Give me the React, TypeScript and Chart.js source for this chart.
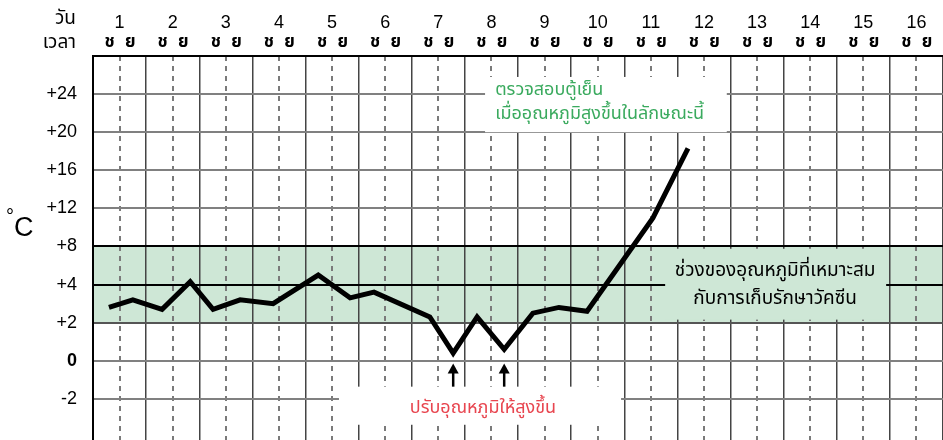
import React, { useEffect, useRef } from 'react';
import { Chart, registerables } from 'chart.js';

Chart.register(...registerables);

// ---------- data ----------
const DAYS = ['1', '2', '3', '4', '5', '6', '7', '8', '9', '10', '11', '12', '13', '14', '15', '16'];
const SHIFTS = ['ช', 'ย'];
const SHIFT_OFFSETS = [0.31, 0.7];
const TEMP_TICKS = [-2, 0, 2, 4, 8, 12, 16, 20, 24, 28];
const TEMP_LABELS = ['-2', '0', '+2', '+4', '+8', '+12', '+16', '+20', '+24', ''];
// reading times, in days from the start of day 1
const READ_TIMES = [0.3, 0.75, 1.3, 1.83, 2.26, 2.77, 3.39, 4.24, 4.84, 5.29, 6.34, 6.78, 7.23, 7.74, 8.28, 8.77, 9.3, 10.54, 11.2];
// fridge temperature (°C)
const READ_TEMPS = [2.8, 3.2, 2.7, 4.3, 2.7, 3.2, 3.0, 5.0, 3.3, 3.6, 2.3, 0.4, 2.3, 0.6, 2.5, 2.8, 2.6, 11.0, 18.3];
const SAFE_RANGE = [2, 8];
const ADJUST_TIMES = [6.78, 7.74];

const TEXT_CHECK = ['ตรวจสอบตู้เย็น', 'เมื่ออุณหภูมิสูงขึ้นในลักษณะนี้'];
const TEXT_SAFE = ['ช่วงของอุณหภูมิที่เหมาะสม', 'กับการเก็บรักษาวัคซีน'];
const TEXT_ADJUST = 'ปรับอุณหภูมิให้สูงขึ้น';

// ---------- styles ----------
const NUM_FONT = '"Liberation Sans", Arial, sans-serif';
const THAI_FONT = 'Tahoma, "Noto Sans Thai", "DejaVu Sans", "Noto Sans", sans-serif';
const BAND_COLOR = '#cee7d6';
const GREEN_TEXT = '#3aaa5e';
const RED_TEXT = '#e8454f';

// map a temperature onto the evenly spaced rows of the printed axis
function toRow(t: number): number {
  const n = TEMP_TICKS.length;
  let i = 0;
  while (i < n - 2 && t > TEMP_TICKS[i + 1]) i++;
  const a = TEMP_TICKS[i];
  const b = TEMP_TICKS[i + 1];
  return i + (t - a) / (b - a);
}

const overlay = {
  id: 'overlay',
  beforeDraw(chart: any) {
    const { ctx, chartArea: a, scales } = chart;
    const y = scales.y;
    const top = y.getPixelForValue(toRow(SAFE_RANGE[1]));
    const bot = y.getPixelForValue(toRow(SAFE_RANGE[0]));
    ctx.save();
    ctx.fillStyle = BAND_COLOR;
    ctx.fillRect(a.left, top, a.right - a.left, bot - top);
    ctx.restore();
  },
  afterDraw(chart: any) {
    const { ctx, chartArea: a, scales } = chart;
    const x = scales.x;
    const y = scales.y;
    const px = (v: number) => x.getPixelForValue(v);
    const py = (v: number) => y.getPixelForValue(v);
    ctx.save();

    // check-the-fridge box
    ctx.fillStyle = '#ffffff';
    ctx.fillRect(px(7.38), py(8.45), px(11.93) - px(7.38), py(7.0) - py(8.45));
    ctx.font = `18px ${THAI_FONT}`;
    ctx.fillStyle = GREEN_TEXT;
    ctx.textAlign = 'left';
    ctx.textBaseline = 'middle';
    ctx.fillText(TEXT_CHECK[0], px(7.57), py(8.07));
    ctx.fillText(TEXT_CHECK[1], px(7.57), py(7.45));

    // safe range label
    ctx.fillStyle = BAND_COLOR;
    ctx.fillRect(px(10.77), py(3.94), px(14.93) - px(10.77), py(2.08) - py(3.94));
    ctx.fillStyle = '#000';
    ctx.textAlign = 'center';
    ctx.font = `19px ${THAI_FONT}`;
    ctx.fillText(TEXT_SAFE[0], px(12.84), py(3.32));
    ctx.fillText(TEXT_SAFE[1], px(12.84), py(2.6));

    // adjust box
    ctx.fillStyle = '#ffffff';
    ctx.fillRect(px(4.63), py(0.32), px(9.94) - px(4.63), py(-0.68) - py(0.32));
    ctx.fillStyle = RED_TEXT;
    ctx.font = `18px ${THAI_FONT}`;
    ctx.fillText(TEXT_ADJUST, px(7.34), py(-0.28));

    // arrows
    ctx.fillStyle = '#000';
    ctx.strokeStyle = '#000';
    ADJUST_TIMES.forEach((t) => {
      const cx = px(t);
      const tip = py(0.93);
      const base = py(0.32);
      ctx.lineWidth = 2.5;
      ctx.beginPath();
      ctx.moveTo(cx, base);
      ctx.lineTo(cx, tip + 8);
      ctx.stroke();
      ctx.beginPath();
      ctx.moveTo(cx, tip);
      ctx.lineTo(cx - 5.5, tip + 10);
      ctx.lineTo(cx + 5.5, tip + 10);
      ctx.closePath();
      ctx.fill();
    });

    // left-side labels
    ctx.fillStyle = '#000';
    ctx.textAlign = 'right';
    ctx.font = `19px ${THAI_FONT}`;
    ctx.fillText('วัน', a.left - 17, 20);
    ctx.fillText('เวลา', a.left - 17, 44);
    ctx.textAlign = 'left';
    ctx.font = `20px ${NUM_FONT}`;
    ctx.fillText('°', 6, 217);
    ctx.font = `27px ${NUM_FONT}`;
    ctx.fillText('C', 14, 229);
    ctx.restore();
  },
};

export default function App() {
  const ref = useRef<HTMLCanvasElement | null>(null);

  useEffect(() => {
    if (!ref.current) return;
    const points = READ_TIMES.map((t, i) => ({ x: t, y: toRow(READ_TEMPS[i]) }));
    const dayBounds = [...DAYS.map((_, i) => i), DAYS.length];
    const dayMids = DAYS.map((_, i) => i + 0.5);
    const shiftPos: number[] = [];
    DAYS.forEach((_, i) => SHIFT_OFFSETS.forEach((o) => shiftPos.push(i + o)));
    const rows = TEMP_TICKS.map((_, i) => i);
    const blackRows = [toRow(4), toRow(SAFE_RANGE[1]), TEMP_TICKS.length - 1];

    const chart = new Chart(ref.current, {
      type: 'line',
      data: {
        datasets: [
          {
            data: points,
            borderColor: '#000',
            borderWidth: 5,
            pointRadius: 0,
            tension: 0,
            borderJoinStyle: 'miter',
            borderCapStyle: 'butt',
            xAxisID: 'x',
            yAxisID: 'y',
          },
        ],
      },
      options: {
        animation: false,
        responsive: false,
        devicePixelRatio: 1,
        layout: { padding: 0 },
        plugins: { legend: { display: false }, tooltip: { enabled: false } },
        scales: {
          x: {
            type: 'linear',
            position: 'top',
            min: 0,
            max: DAYS.length,
            weight: 0,
            afterBuildTicks: (s: any) => {
              s.ticks = dayBounds.map((v) => ({ value: v }));
            },
            afterFit: (s: any) => {
              s.height = 0;
              s.paddingLeft = 0;
              s.paddingRight = 0;
            },
            ticks: { display: false },
            grid: { color: '#444', lineWidth: 1.5, drawTicks: false },
            border: { display: true, color: '#000', width: 2 },
          },
          xShift: {
            type: 'linear',
            position: 'top',
            min: 0,
            max: DAYS.length,
            weight: 1,
            afterBuildTicks: (s: any) => {
              s.ticks = shiftPos.map((v) => ({ value: v }));
            },
            afterFit: (s: any) => {
              s.height = 22;
              s.paddingLeft = 0;
              s.paddingRight = 0;
            },
            ticks: {
              autoSkip: false,
              maxRotation: 0,
              padding: 2,
              color: '#000',
              font: { family: THAI_FONT, size: 17, weight: 'bold' },
              callback: (_v: any, i: number) => SHIFTS[i % SHIFTS.length],
            },
            grid: { display: false, drawTicks: false },
            border: { display: false },
          },
          xDay: {
            type: 'linear',
            position: 'top',
            min: 0,
            max: DAYS.length,
            weight: 2,
            afterBuildTicks: (s: any) => {
              s.ticks = dayMids.map((v) => ({ value: v }));
            },
            afterFit: (s: any) => {
              s.height = 34;
              s.paddingLeft = 0;
              s.paddingRight = 0;
            },
            ticks: {
              autoSkip: false,
              maxRotation: 0,
              padding: 0,
              color: '#000',
              font: { family: NUM_FONT, size: 18 },
              callback: (_v: any, i: number) => DAYS[i],
            },
            grid: { color: '#7a7a7a', lineWidth: 2, drawTicks: false },
            border: { display: false, dash: [5, 5] },
          },
          y: {
            type: 'linear',
            position: 'left',
            min: -1.08,
            max: TEMP_TICKS.length - 1,
            afterBuildTicks: (s: any) => {
              s.ticks = rows.map((v) => ({ value: v }));
            },
            afterFit: (s: any) => {
              s.width = 93;
              s.paddingTop = 0;
              s.paddingBottom = 0;
            },
            ticks: {
              autoSkip: false,
              padding: 16,
              color: '#000',
              font: (c: any) => ({
                family: NUM_FONT,
                size: 18,
                weight: c.tick && c.tick.value === toRow(0) ? 'bold' : 'normal',
              }),
              callback: (_v: any, i: number) => TEMP_LABELS[i],
            },
            grid: {
              drawTicks: false,
              lineWidth: 2,
              color: (c: any) =>
                c.tick && blackRows.includes(c.tick.value)
                  ? '#000'
                  : c.tick && c.tick.value === toRow(SAFE_RANGE[0])
                  ? '#555'
                  : '#808080',
            },
            border: { display: true, color: '#000', width: 2 },
          },
        },
      },
      plugins: [overlay],
    } as any);
    return () => chart.destroy();
  }, []);

  return (
    <div style={{ position: 'absolute', left: 0, top: 0, width: 943, height: 440 }}>
      <canvas ref={ref} width={943} height={440} style={{ display: 'block', width: 943, height: 440 }} />
    </div>
  );
}
